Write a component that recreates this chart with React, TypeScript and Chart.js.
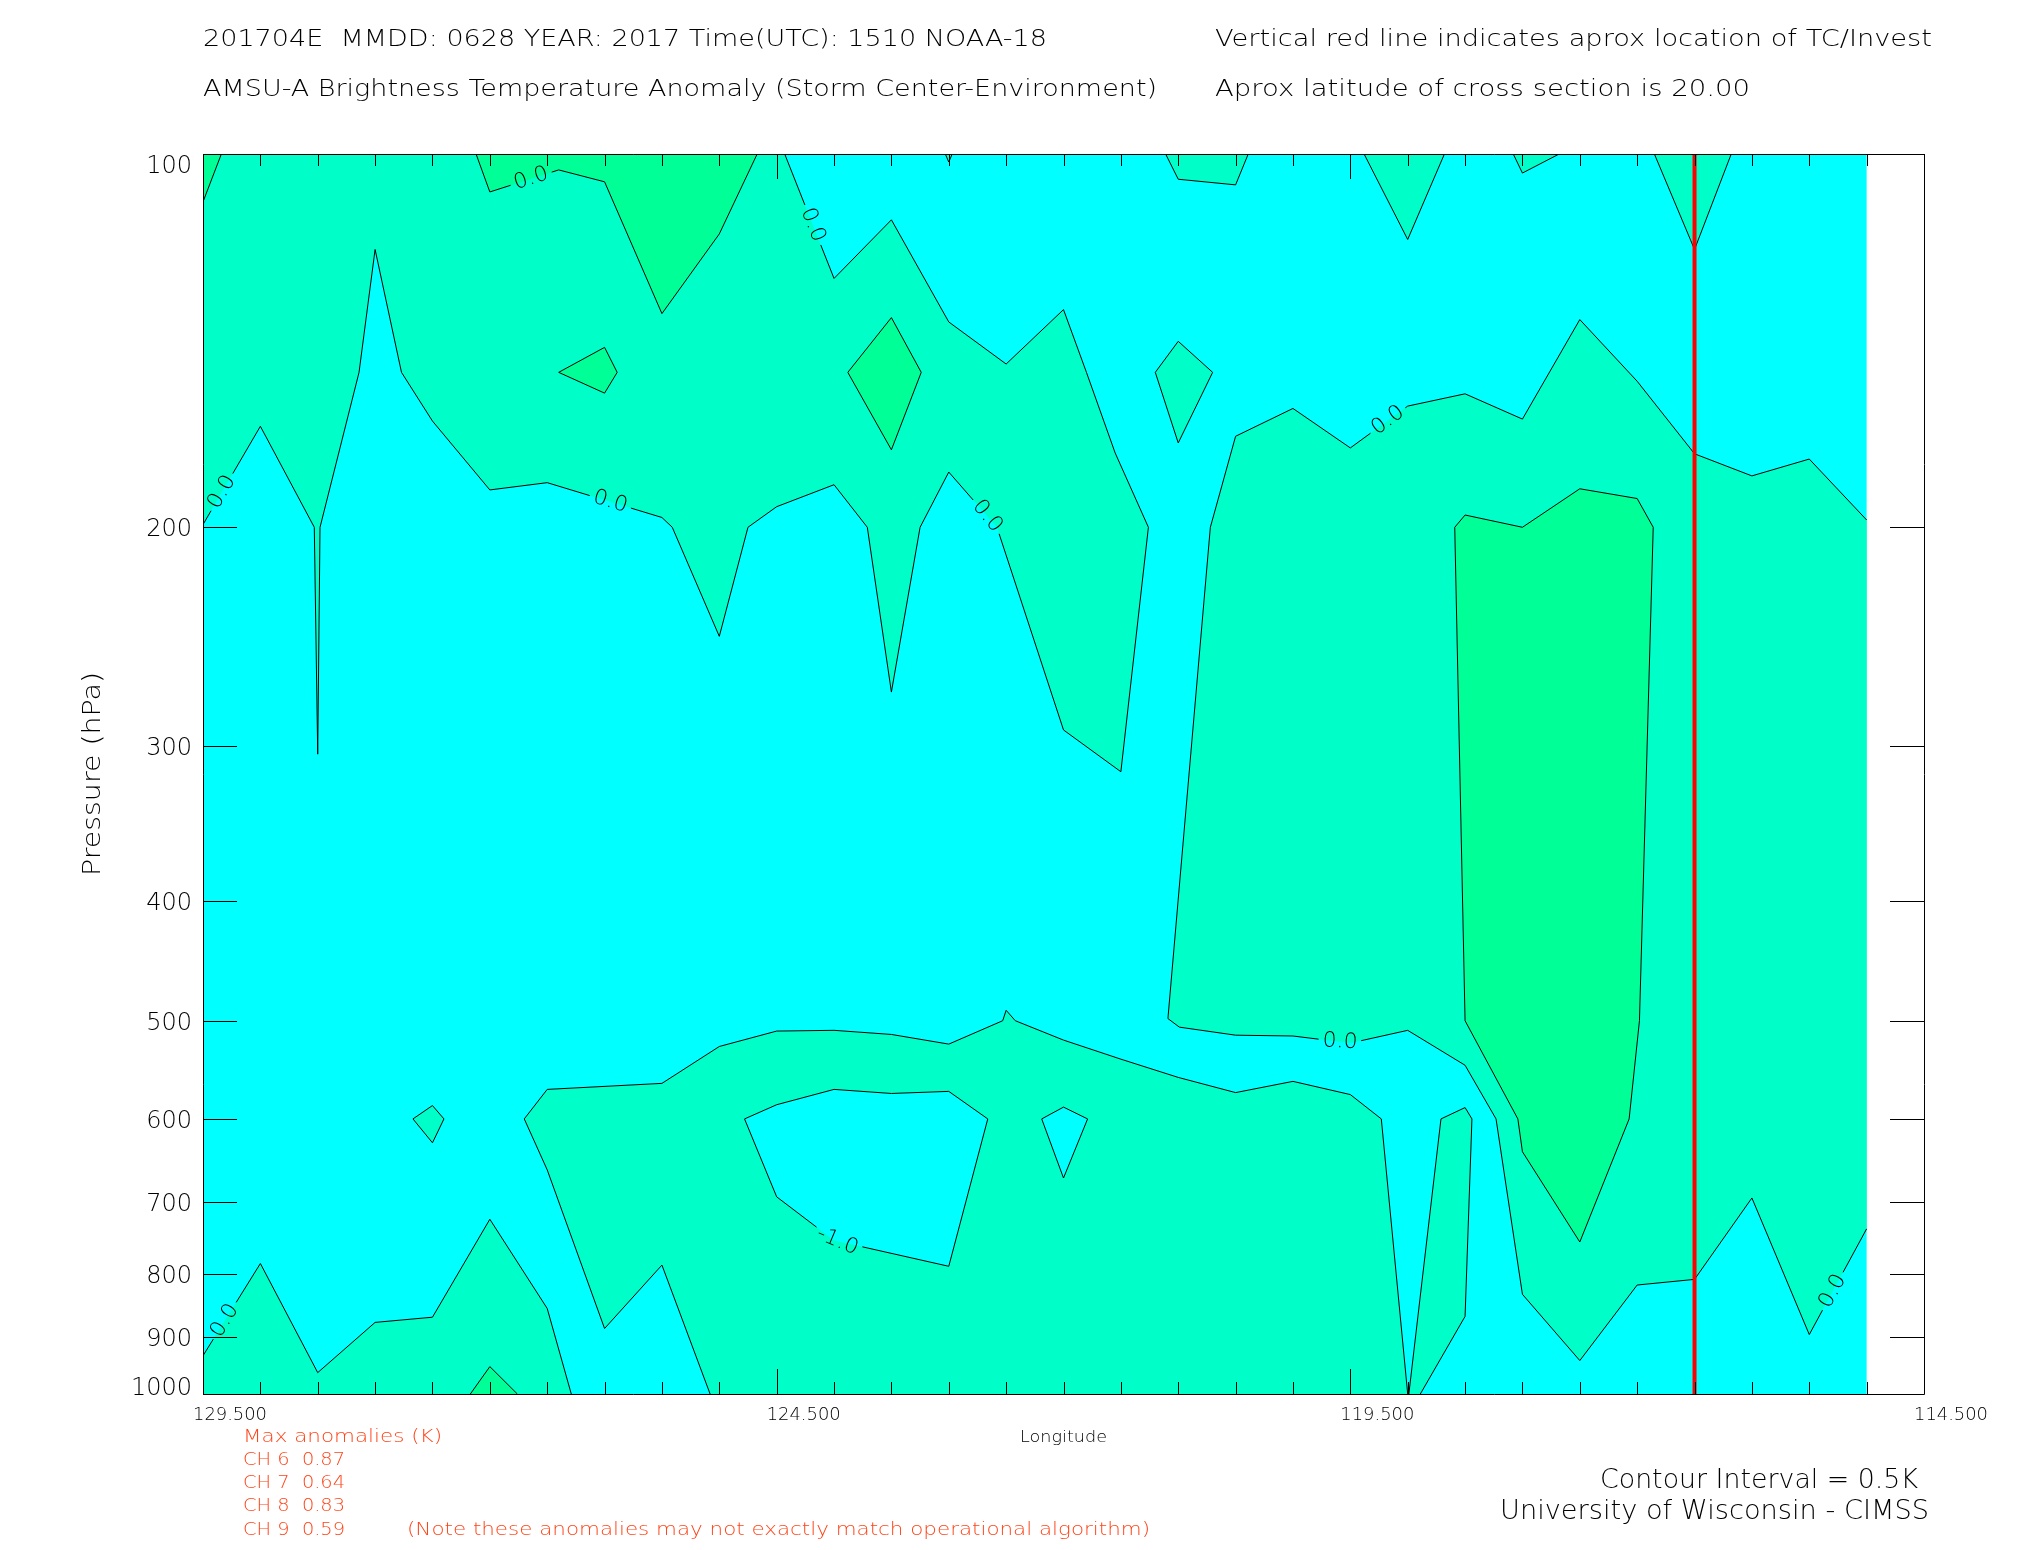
import React, { useEffect, useRef } from 'react';
import { Chart, registerables } from 'chart.js';

Chart.register(...registerables);

type Pt = [number, number]; // [longitude (deg E), pressure (hPa)]

// ---------------- axes / reference values ----------------
const LON_AXIS_WEST = 129.5;
const LON_AXIS_EAST = 114.5;
const LON_DATA_WEST = 129.5;
const LON_DATA_EAST = 115.0;
const P_TOP = 100;
const P_BOTTOM = 1000;
const LON_TICK_STEP = 0.5;
const LON_MAJOR_TICKS = [129.5, 124.5, 119.5, 114.5];
const PRESSURE_TICKS = [100, 200, 300, 400, 500, 600, 700, 800, 900, 1000];
const STORM_LON = 116.5;

// ---------------- text ----------------
const TITLE_LEFT = [
  '201704E  MMDD: 0628 YEAR: 2017 Time(UTC): 1510 NOAA-18',
  'AMSU-A Brightness Temperature Anomaly (Storm Center-Environment)',
];
const TITLE_RIGHT = [
  'Vertical red line indicates aprox location of TC/Invest',
  'Aprox latitude of cross section is 20.00',
];
const MAX_ANOM_TITLE = 'Max anomalies (K)';
const CHANNELS = ['CH 6', 'CH 7', 'CH 8', 'CH 9'];
const MAX_ANOMALIES = [0.87, 0.64, 0.83, 0.59];
const NOTE = '(Note these anomalies may not exactly match operational algorithm)';
const CONTOUR_NOTE = 'Contour Interval = 0.5K';
const CREDIT = 'University of Wisconsin - CIMSS';

// ---------------- contour regions (lon, hPa) ----------------
const DOMAIN: Pt[] = [[129.5, 100], [115.0, 100], [115.0, 1000], [129.5, 1000]];

// anomaly >= 0 (turquoise) regions
const ZERO_UPPER_WEST: Pt[] = [
  [129.5, 100], [124.43, 100], [124.0, 126.0], [123.5, 113.0], [123.0, 136.6], [122.5, 147.7],
  [122.0, 133.5], [121.8, 150], [121.55, 174.2], [121.26, 200], [121.5, 314.9], [122.0, 291.4],
  [122.58, 200], [123.0, 180.5], [123.25, 200], [123.5, 271.6], [123.71, 200], [124.0, 184.8],
  [124.5, 192.5], [124.75, 200], [125.0, 244.9], [125.41, 200], [125.5, 196.4], [126.5, 184.1],
  [127.0, 186.6], [127.5, 164.2], [127.77, 150], [128.0, 119.4], [128.14, 150], [128.48, 200],
  [128.5, 304.8], [128.53, 200], [129.0, 165.8], [129.5, 199.0],
];
const ZERO_EAST: Pt[] = [
  [115.0, 197.3], [115.5, 176.2], [116.0, 181.8], [116.5, 174.5], [117.0, 152.5], [117.5, 136.0],
  [118.0, 163.6], [118.5, 156.1], [119.0, 159.7], [119.5, 172.6], [120.0, 160.4], [120.5, 168.9],
  [120.72, 200], [121.09, 498], [120.99, 506], [120.5, 513.6], [120.0, 514.4], [119.5, 521.2],
  [119.0, 509.0], [118.5, 543.1], [118.23, 600], [118.0, 831], [117.5, 939.8], [117.0, 816.8],
  [116.5, 808.3], [116.0, 694.9], [115.5, 895.5], [115.0, 735.9],
];
const ZERO_LOWER_MID: Pt[] = [
  [125.08, 1000], [125.5, 787.1], [126.0, 885.5], [126.5, 659.5], [126.7, 600], [126.5, 568.0],
  [125.5, 561.7], [125.0, 524.5], [124.5, 509.7], [124.0, 509.0], [123.5, 512.9], [123.0, 522.2],
  [122.53, 500], [122.5, 490.4], [122.42, 500], [122.0, 518.3], [121.5, 537], [121.0, 555.5],
  [120.5, 571.4], [120.0, 559.6], [119.5, 573.5], [119.23, 600], [119.0, 1000],
];
const ZERO_LOWER_WEST: Pt[] = [
  [129.5, 1000], [129.5, 931.4], [129.0, 784.8], [128.5, 961.1], [128.0, 875.5], [127.5, 867.1],
  [127.0, 722.9], [126.5, 853.1], [126.29, 1000],
];
const ZERO_TONGUE: Pt[] = [[118.99, 1000], [118.71, 600], [118.5, 587.5], [118.44, 600], [118.5, 865.8], [118.89, 1000]];
const ZERO_ISLAND_UPPER: Pt[] = [[121.2, 150], [121.0, 141.6], [120.7, 150], [121.0, 171.0]];
const ZERO_ISLAND_LOWER: Pt[] = [[127.67, 600], [127.5, 585.3], [127.4, 600], [127.5, 627.2]];
const ZERO_TOP_1: Pt[] = [[121.11, 100], [121.0, 104.8], [120.5, 105.9], [120.39, 100]];
const ZERO_TOP_2: Pt[] = [[119.38, 100], [119.0, 117.2], [118.68, 100]];
const ZERO_TOP_3: Pt[] = [[118.08, 100], [118.0, 103.6], [117.68, 100]];
const ZERO_TOP_4: Pt[] = [[116.85, 100], [116.5, 119.4], [116.18, 100]];
const ZERO_TOP_5: Pt[] = [[123.03, 100], [123.0, 101.5], [122.97, 100]];

// anomaly >= 0.5 (green) regions
const HALF_CORNER: Pt[] = [[129.5, 100], [129.34, 100], [129.5, 109.3]];
const HALF_TOP: Pt[] = [[127.12, 100], [127.0, 107.3], [126.4, 103.0], [126.0, 105.3], [125.5, 134.5], [125.0, 116.0], [124.67, 100]];
const HALF_DIAMOND_1: Pt[] = [[126.4, 150], [126.0, 143.2], [125.89, 150], [126.0, 155.9]];
const HALF_DIAMOND_2: Pt[] = [[123.88, 150], [123.5, 135.5], [123.24, 150], [123.5, 173.2]];
const HALF_CORE: Pt[] = [
  [118.59, 200], [118.5, 195.5], [118.0, 200], [117.5, 186.2], [117.0, 189.6], [116.86, 200],
  [116.98, 500], [117.07, 600], [117.5, 754.1], [118.0, 637.7], [118.04, 600], [118.5, 500],
];
const HALF_BOTTOM: Pt[] = [[127.17, 1000], [127.0, 950.4], [126.76, 1000]];

// negative pockets (cyan) inside the lower turquoise region
const NEG_POCKET_1: Pt[] = [
  [124.78, 600], [124.5, 584.4], [124.0, 568.0], [123.5, 572.3], [123.0, 570.1], [122.66, 600],
  [123.0, 788.9], [124.0, 751.9], [124.5, 693.4],
];
const NEG_POCKET_2: Pt[] = [[122.19, 600], [122.0, 587.0], [121.79, 600], [122.0, 669.6]];

const CYAN = '#00FFFF';
const TURQ = '#00FFC8';
const GREEN = '#00FF96';

const LAYERS = [
  { name: 'BG', pts: DOMAIN, color: CYAN, order: 4, stroke: false },
  { name: 'A', pts: ZERO_UPPER_WEST, color: TURQ, order: 3, stroke: true },
  { name: 'B', pts: ZERO_EAST, color: TURQ, order: 3, stroke: true },
  { name: 'C', pts: ZERO_LOWER_MID, color: TURQ, order: 3, stroke: true },
  { name: 'D', pts: ZERO_LOWER_WEST, color: TURQ, order: 3, stroke: true },
  { name: 'T', pts: ZERO_TONGUE, color: TURQ, order: 3, stroke: true },
  { name: 'I1', pts: ZERO_ISLAND_UPPER, color: TURQ, order: 3, stroke: true },
  { name: 'I2', pts: ZERO_ISLAND_LOWER, color: TURQ, order: 3, stroke: true },
  { name: 'P1', pts: ZERO_TOP_1, color: TURQ, order: 3, stroke: true },
  { name: 'P2', pts: ZERO_TOP_2, color: TURQ, order: 3, stroke: true },
  { name: 'P3', pts: ZERO_TOP_3, color: TURQ, order: 3, stroke: true },
  { name: 'P4', pts: ZERO_TOP_4, color: TURQ, order: 3, stroke: true },
  { name: 'P5', pts: ZERO_TOP_5, color: TURQ, order: 3, stroke: true },
  { name: 'G0', pts: HALF_CORNER, color: GREEN, order: 2, stroke: true },
  { name: 'G1', pts: HALF_TOP, color: GREEN, order: 2, stroke: true },
  { name: 'G2', pts: HALF_DIAMOND_1, color: GREEN, order: 2, stroke: true },
  { name: 'G3', pts: HALF_DIAMOND_2, color: GREEN, order: 2, stroke: true },
  { name: 'G4', pts: HALF_CORE, color: GREEN, order: 2, stroke: true },
  { name: 'G5', pts: HALF_BOTTOM, color: GREEN, order: 2, stroke: true },
  { name: 'H1', pts: NEG_POCKET_1, color: CYAN, order: 1, stroke: true },
  { name: 'H2', pts: NEG_POCKET_2, color: CYAN, order: 1, stroke: true },
];

// contour labels: on segment `seg` (vertex seg -> seg+1) of a layer, at fraction t
const CONTOUR_LABELS = [
  { layer: 'A', seg: 1, t: 0.57, text: '0.0' },
  { layer: 'A', seg: 12, t: 0.2, text: '0.0' },
  { layer: 'A', seg: 22, t: 0.45, text: '0.0' },
  { layer: 'A', seg: 32, t: 0.67, text: '0.0' },
  { layer: 'G1', seg: 1, t: 0.6, text: '0.0' },
  { layer: 'B', seg: 8, t: 0.345, text: '0.0' },
  { layer: 'B', seg: 16, t: 0.82, text: '0.0' },
  { layer: 'B', seg: 26, t: 0.41, text: '0.0' },
  { layer: 'H1', seg: 6, t: 0.97, text: '-1.0' },
  { layer: 'D', seg: 1, t: 0.38, text: '0.0' },
];

const FONT = '"DejaVu Sans", "Liberation Sans", sans-serif';
const ORANGE = '#FF4418';

const near = (a: number, b: number) => Math.abs(a - b) < 1e-6;
const onEdge = (a: Pt, b: Pt) =>
  (near(a[0], LON_DATA_WEST) && near(b[0], LON_DATA_WEST)) ||
  (near(a[0], LON_DATA_EAST) && near(b[0], LON_DATA_EAST)) ||
  (near(a[1], P_TOP) && near(b[1], P_TOP)) ||
  (near(a[1], P_BOTTOM) && near(b[1], P_BOTTOM));

function drawText(ctx: CanvasRenderingContext2D, text: string, x: number, y: number, o: any) {
  ctx.save();
  ctx.font = `${o.weight ?? 200} ${o.size}px ${FONT}`;
  ctx.fillStyle = o.color ?? '#000';
  ctx.textBaseline = o.baseline ?? 'alphabetic';
  const w = ctx.measureText(text).width;
  const sx = o.width ? o.width / w : o.hscale ?? 1;
  ctx.translate(x, y);
  if (o.rotate) ctx.rotate(o.rotate);
  ctx.scale(sx, 1);
  ctx.textAlign = o.align ?? 'left';
  ctx.fillText(text, 0, 0);
  ctx.restore();
}

const LABEL_SIZE = 21;
const LABEL_HSCALE = 1.05;

const contourPlugin = {
  id: 'contourLines',
  beforeDatasetsDraw(chart: any) {
    const ctx: CanvasRenderingContext2D = chart.ctx;
    const area = chart.chartArea;
    ctx.save();
    ctx.beginPath();
    ctx.rect(area.left, area.top, area.right - area.left, area.bottom - area.top);
    ctx.clip();
    LAYERS.forEach((layer, di) => {
      if (!layer.stroke) return;
      const meta = chart.getDatasetMeta(di);
      const px: number[][] = meta.data.map((el: any) => [el.x, el.y]);
      const n = px.length;
      const seglen: number[] = [];
      const cum: number[] = [0];
      for (let i = 0; i < n; i++) {
        const a = px[i], b = px[(i + 1) % n];
        const L = Math.hypot(b[0] - a[0], b[1] - a[1]);
        seglen.push(L);
        cum.push(cum[i] + L);
      }
      const total = cum[n];
      const pointAt = (s: number) => {
        s = ((s % total) + total) % total;
        let i = 0;
        while (i < n - 1 && cum[i + 1] < s) i++;
        const t = seglen[i] ? (s - cum[i]) / seglen[i] : 0;
        const a = px[i], b = px[(i + 1) % n];
        return [a[0] + (b[0] - a[0]) * t, a[1] + (b[1] - a[1]) * t];
      };
      ctx.font = `200 ${LABEL_SIZE}px ${FONT}`;
      const gaps = CONTOUR_LABELS.filter((l) => l.layer === layer.name).map((l) => {
        const w = ctx.measureText(l.text).width * LABEL_HSCALE;
        const sc = cum[l.seg] + l.t * seglen[l.seg];
        return { sc, w, lo: sc - w / 2 - 4, hi: sc + w / 2 + 4, text: l.text };
      });
      ctx.strokeStyle = '#000';
      ctx.lineWidth = 1;
      ctx.beginPath();
      for (let i = 0; i < n; i++) {
        if (onEdge(layer.pts[i] as Pt, layer.pts[(i + 1) % n] as Pt)) continue;
        let pieces: number[][] = [[cum[i], cum[i + 1]]];
        for (const g of gaps) {
          pieces = pieces.flatMap(([s0, s1]) => {
            const out: number[][] = [];
            if (g.lo > s0) out.push([s0, Math.min(s1, g.lo)]);
            if (g.hi < s1) out.push([Math.max(s0, g.hi), s1]);
            return out.filter(([u, v]) => v > u);
          });
        }
        for (const [s0, s1] of pieces) {
          const p0 = pointAt(s0);
          const p1 = pointAt(s1 - 1e-9);
          ctx.moveTo(p0[0], p0[1]);
          ctx.lineTo(p1[0], p1[1]);
        }
      }
      ctx.stroke();
      for (const g of gaps) {
        const c = pointAt(g.sc);
        const p0 = pointAt(g.sc - g.w / 2);
        const p1 = pointAt(g.sc + g.w / 2);
        let ang = Math.atan2(p1[1] - p0[1], p1[0] - p0[0]);
        if (Math.cos(ang) < 0) ang += Math.PI;
        drawText(ctx, g.text, c[0], c[1], {
          size: LABEL_SIZE, hscale: LABEL_HSCALE, rotate: ang, align: 'center', baseline: 'middle',
        });
      }
    });
    ctx.restore();
  },
  afterDraw(chart: any) {
    const ctx: CanvasRenderingContext2D = chart.ctx;
    const xs = chart.scales.x;
    const ys = chart.scales.y;
    const area = chart.chartArea;
    const L = area.left, R = area.right, T = area.top, B = area.bottom;
    ctx.save();
    ctx.strokeStyle = '#000';
    ctx.lineWidth = 1;
    ctx.beginPath();
    ctx.rect(L + 0.5, T + 0.5, R - L, B - T);
    // longitude ticks (inward, top and bottom)
    for (let lon = LON_AXIS_WEST; lon >= LON_AXIS_EAST - 1e-9; lon -= LON_TICK_STEP) {
      const x = Math.round(xs.getPixelForValue(lon)) + 0.5;
      const major = LON_MAJOR_TICKS.some((m) => near(m, lon));
      const len = major ? 25 : 12;
      ctx.moveTo(x, T);
      ctx.lineTo(x, T + len);
      ctx.moveTo(x, B);
      ctx.lineTo(x, B - len);
    }
    // pressure ticks (inward, left and right)
    for (const p of PRESSURE_TICKS) {
      const y = Math.round(ys.getPixelForValue(p)) + 0.5;
      ctx.moveTo(L, y);
      ctx.lineTo(L + 34, y);
      ctx.moveTo(R, y);
      ctx.lineTo(R - 34, y);
    }
    ctx.stroke();
    ctx.restore();

    // pressure labels
    for (const p of PRESSURE_TICKS) {
      const y = ys.getPixelForValue(p);
      let base = y + 9.2;
      if (p === P_TOP) base = T + 18.5;
      if (p === P_BOTTOM) base = B + 0.5;
      drawText(ctx, String(p), L - 11, base, { size: 25, hscale: 0.96, align: 'right' });
    }
    // longitude labels
    for (const lon of LON_MAJOR_TICKS) {
      const x = xs.getPixelForValue(lon);
      drawText(ctx, lon.toFixed(3), x + 27, 1420, { size: 17.5, width: 74, align: 'center' });
    }
    drawText(ctx, 'Longitude', (L + R) / 2, 1442, { size: 16, width: 87, align: 'center' });
    drawText(ctx, 'Pressure (hPa)', 100, (T + B) / 2, { size: 25, width: 204, align: 'center', rotate: -Math.PI / 2 });

    // titles
    drawText(ctx, TITLE_LEFT[0], 203, 46, { size: 22.5, width: 844 });
    drawText(ctx, TITLE_LEFT[1], 203, 96, { size: 22.5, width: 954 });
    drawText(ctx, TITLE_RIGHT[0], 1215, 46, { size: 22.5, width: 717 });
    drawText(ctx, TITLE_RIGHT[1], 1215, 96, { size: 22.5, width: 535 });

    // max anomalies block
    drawText(ctx, MAX_ANOM_TITLE, 243, 1442, { size: 18, width: 199, color: ORANGE });
    const rows = [1464.5, 1488, 1511, 1534.5];
    CHANNELS.forEach((ch, i) => {
      drawText(ctx, `${ch}  ${MAX_ANOMALIES[i].toFixed(2)}`, 243, rows[i], { size: 18, width: 102, color: ORANGE });
    });
    drawText(ctx, NOTE, 407, 1534.5, { size: 18, width: 743, color: ORANGE });

    drawText(ctx, CONTOUR_NOTE, 1600, 1488.3, { size: 26, width: 318 });
    drawText(ctx, CREDIT, 1500, 1519.3, { size: 26, width: 429 });
  },
};

export default function App() {
  const ref = useRef<HTMLCanvasElement>(null);
  useEffect(() => {
    const datasets: any[] = LAYERS.map((layer) => ({
      label: layer.name,
      data: layer.pts.map(([x, y]) => ({ x, y })),
      showLine: true,
      fill: 'shape',
      backgroundColor: layer.color,
      borderWidth: 0,
      borderColor: 'rgba(0,0,0,0)',
      pointRadius: 0,
      pointHoverRadius: 0,
      order: layer.order,
    }));
    datasets.push({
      label: 'TC location',
      data: [{ x: STORM_LON, y: P_TOP }, { x: STORM_LON, y: P_BOTTOM }],
      showLine: true,
      fill: false,
      borderColor: '#FF0000',
      borderWidth: 4,
      pointRadius: 0,
      order: 0,
    });
    const chart = new Chart(ref.current as HTMLCanvasElement, {
      type: 'scatter',
      data: { datasets },
      options: {
        responsive: false,
        maintainAspectRatio: false,
        animation: false,
        devicePixelRatio: 1,
        events: [],
        layout: { padding: { left: 203, top: 154, right: 101, bottom: 156 } },
        scales: {
          x: { type: 'linear', min: LON_AXIS_EAST, max: LON_AXIS_WEST, reverse: true, display: false },
          y: { type: 'logarithmic', min: P_TOP, max: P_BOTTOM, reverse: true, display: false },
        },
        plugins: {
          legend: { display: false },
          tooltip: { enabled: false },
          filler: { propagate: false, drawTime: 'beforeDatasetsDraw' },
        },
      } as any,
      plugins: [contourPlugin as any],
    });
    return () => chart.destroy();
  }, []);
  return (
    <div style={{ position: 'absolute', left: 0, top: 0, width: 2025, height: 1550, background: '#fff' }}>
      <canvas ref={ref} width={2025} height={1550} style={{ display: 'block' }} />
    </div>
  );
}
